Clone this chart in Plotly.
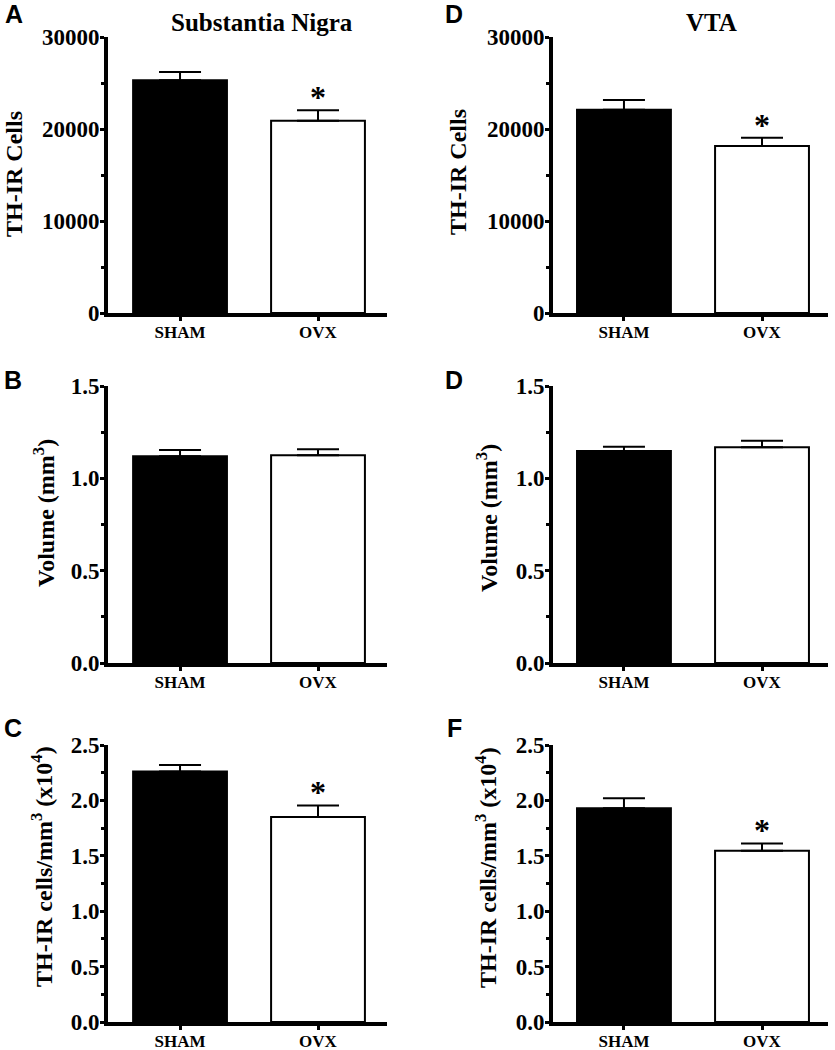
import plotly.graph_objects as go

# ---------------- data ----------------
categories = ["SHAM", "OVX"]

sn_cells = [25300, 20900]
sn_cells_err = [900, 1150]
vta_cells = [22100, 18150]
vta_cells_err = [1050, 900]

sn_volume = [1.120, 1.125]
sn_volume_err = [0.033, 0.032]
vta_volume = [1.148, 1.168]
vta_volume_err = [0.023, 0.035]

sn_density = [2.26, 1.85]
sn_density_err = [0.06, 0.105]
vta_density = [1.93, 1.545]
vta_density_err = [0.09, 0.067]

significant = [False, True]

panel_letters = ["A", "D", "B", "D", "C", "F"]
column_titles = ["Substantia Nigra", "VTA"]
y_titles = ["TH-IR Cells", "Volume (mm<sup>3</sup>)", "TH-IR cells/mm<sup>3</sup> (x10<sup>4</sup>)"]

# --------------- layout helpers ---------------
W, H = 835, 1050
SERIF = "Liberation Serif"
SANS = "Liberation Sans"

def px_x(p):
    return p / W

def px_y(p):
    return 1 - p / H

col_px = [(108, 387), (553, 828)]
row_px = [(37, 313), (386, 663), (745, 1022)]
x_ranges = [[-0.522, 1.5], [-0.514, 1.478]]

panels = [
    # (row, col, values, errs, sig, yrange, dtick, minor, fmt)
    (0, 0, sn_cells, sn_cells_err, True, [0, 30000], 10000, 5000, "d"),
    (0, 1, vta_cells, vta_cells_err, True, [0, 30000], 10000, 5000, "d"),
    (1, 0, sn_volume, sn_volume_err, False, [0, 1.5], 0.5, 0.25, ".1f"),
    (1, 1, vta_volume, vta_volume_err, False, [0, 1.5], 0.5, 0.25, ".1f"),
    (2, 0, sn_density, sn_density_err, True, [0, 2.5], 0.5, 0.25, ".1f"),
    (2, 1, vta_density, vta_density_err, True, [0, 2.5], 0.5, 0.25, ".1f"),
]

fig = go.Figure()
annotations = []

for i, (r, c, vals, errs, sig, yr, dt, mn, fmt) in enumerate(panels):
    n = i + 1
    xa = "x" if n == 1 else f"x{n}"
    ya = "y" if n == 1 else f"y{n}"
    fig.add_trace(go.Bar(
        x=categories, y=vals, width=0.68,
        marker=dict(color=["black", "white"], line=dict(color="black", width=2)),
        error_y=dict(type="data", symmetric=False, array=errs, arrayminus=[0, 0],
                     color="black", thickness=2, width=21),
        xaxis=xa, yaxis=ya, showlegend=False, hoverinfo="skip",
    ))
    x0, x1 = col_px[c]
    y0, y1 = row_px[r]
    xkey = "xaxis" if n == 1 else f"xaxis{n}"
    ykey = "yaxis" if n == 1 else f"yaxis{n}"
    fig.update_layout({
        xkey: dict(domain=[px_x(x0), px_x(x1)], anchor=ya, range=x_ranges[c],
                   automargin=False,
                   showline=True, linecolor="black", linewidth=4,
                   ticks="outside", ticklen=4, tickwidth=3, tickcolor="black",
                   ticklabelstandoff=-3,
                   tickfont=dict(family=SERIF, size=17, color="black", weight="bold"),
                   showgrid=False, zeroline=False, fixedrange=True),
        ykey: dict(domain=[px_y(y1), px_y(y0)], anchor=xa, range=yr, dtick=dt, tick0=0,
                   tickformat=fmt, automargin=False,
                   showline=True, linecolor="black", linewidth=4,
                   ticks="outside", ticklen=4, tickwidth=3, tickcolor="black",
                   ticklabelstandoff=-4,
                   minor=dict(dtick=mn, ticks="outside", ticklen=3, tickwidth=3, tickcolor="black"),
                   tickfont=dict(family=SERIF, size=23, color="black", weight="bold"),
                   showgrid=False, zeroline=False, fixedrange=True),
    })
    # significance markers
    if sig:
        for k, cat in enumerate(categories):
            if significant[k]:
                annotations.append(dict(
                    x=cat, y=vals[k] + errs[k], xref=xa, yref=ya,
                    text="*", showarrow=False, yanchor="bottom", yshift=-7,
                    font=dict(family=SERIF, size=32, color="black", weight="bold"),
                ))

# panel letters
letter_pos = [(14, 14), (454, 14), (13, 380), (454, 380), (13, 728), (455, 728)]
for letter, (lx, ly) in zip(panel_letters, letter_pos):
    annotations.append(dict(
        x=px_x(lx), y=px_y(ly), xref="paper", yref="paper", text=letter,
        showarrow=False, xanchor="center", yanchor="middle",
        font=dict(family=SANS, size=25, color="black", weight="bold"),
    ))

# column titles
for title, (tx, ty) in zip(column_titles, [(262, 23), (711, 23)]):
    annotations.append(dict(
        x=px_x(tx), y=px_y(ty), xref="paper", yref="paper", text=title,
        showarrow=False, xanchor="center", yanchor="middle",
        font=dict(family=SERIF, size=25, color="black", weight="bold"),
    ))

# y-axis titles
ytitle_pos = [
    (0, (14, 174)), (0, (458, 172)),
    (1, (44, 513)), (1, (487, 518)),
    (2, (42, 867)), (2, (486, 867)),
]
for ti, (tx, ty) in ytitle_pos:
    annotations.append(dict(
        x=px_x(tx), y=px_y(ty), xref="paper", yref="paper", text=y_titles[ti],
        showarrow=False, xanchor="center", yanchor="middle", textangle=-90,
        font=dict(family=SERIF, size=24, color="black", weight="bold"),
    ))

fig.update_layout(
    template="none",
    width=W, height=H,
    margin=dict(l=0, r=0, t=0, b=0, pad=0),
    paper_bgcolor="white", plot_bgcolor="white",
    annotations=annotations,
)

fig.write_html("out.html", config={"displayModeBar": False},
               post_script="document.body.style.margin='0px';document.body.style.overflow='hidden';")
